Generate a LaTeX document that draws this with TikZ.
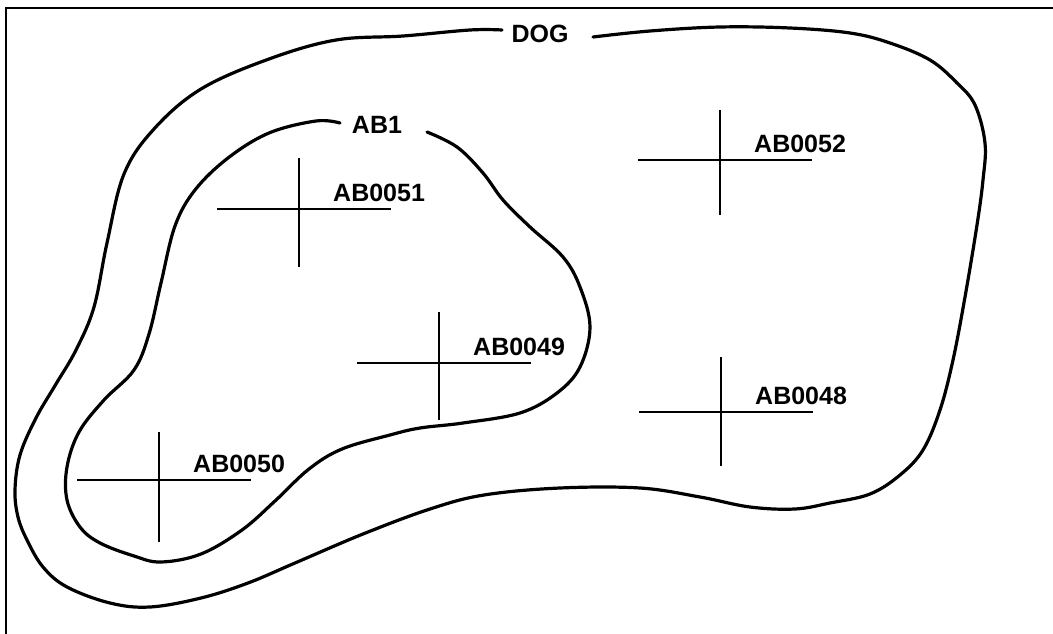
\documentclass[tikz,border=0pt]{standalone}
\usepackage{fontspec}
\setmainfont{Liberation Sans}
\usetikzlibrary{calc}
\tikzset{%
  % Specifications for style of lines and labels:
     blob/.style = {draw=black, line width=3.2pt, line cap=round, line join=round},
    crossline/.style = {draw=black, line width=2.1pt},
    frameline/.style = {draw=black, line width=2.2pt},
    sitelabel/.style = {anchor=base west, inner sep=0pt,
                        font=\fontsize{25}{30}\selectfont\bfseries},
    arealabel/.style = {sitelabel, anchor=base},
}

\begin{document}
\begin{tikzpicture}[x=1pt, y=-1pt]
  \useasboundingbox (0,0) rectangle (1053,634);
  % Frame (top and left edges only)
  \coordinate (frameCorner) at (6,8);
  \draw[frameline] (1053,8) -- (frameCorner) -- (6,634);

  % Area labels sitting in the gaps of the outlines
  \node (dogLabel) [arealabel] at (540,43) {DOG};
  \node (abLabel)  [arealabel] at (377,133) {AB1};

  % Outer outline (DOG), from right of its gap round to left of it
  \draw[blob] plot[smooth, tension=0.6] coordinates {
    (593,37) (650,31) (720,27) (790,28) (850,33) (890,43) (930,60)
    (957,83) (975,105) (985,143) (983,180) (977,225) (965,297)
    (953,360) (940,410) (923,450) (900,475) (870,494) (830,503)
    (795,509) (750,507) (700,497) (640,488) (560,488) (484,495)
    (430,509) (363,534) (295,563) (248,583) (201,598) (150,607)
    (110,603) (67,587) (43,567) (27,540) (18,517) (15,490) (20,455)
    (36,418) (56,384) (76,350) (94,307) (107,243) (124,174) (154,129)
    (201,89) (269,59) (336,40) (403,36) (470,30) (502,30)};

  % Inner outline (AB1), from left of its gap round to right of it
  \draw[blob] plot[smooth, tension=0.6] coordinates {
    (340,123) (316,121) (269,133) (228,158) (195,190) (175,226)
    (161,283) (149,334) (134,370) (104,400) (79,432) (67,467)
    (67,500) (80,527) (100,543) (134,556) (161,562) (201,554)
    (242,530) (275,501) (309,469) (342,449) (390,435) (420,428)
    (463,423) (520,413) (557,393) (580,367) (590,327) (580,287)
    (563,257) (530,227) (503,200) (483,173) (457,147) (427,132)};

  % Survey points: cross and label
  \foreach \name/\x/\y/\up/\down in {AB0051/299/209/51/58, AB0052/720/160/50/55,
      AB0049/439/363/51/57, AB0048/721/412/55/54, AB0050/159/480/48/62} {
    \coordinate (\name) at (\x,\y);
    \draw[crossline] ($(\name)+(-82,0)$) -- ($(\name)+(92,0)$);
    \draw[crossline] ($(\name)+(0,-\up)$) -- ($(\name)+(0,\down)$);
    \node (\name-label) [sitelabel] at ($(\name)+(34,-8)$) {\name};
  }
\end{tikzpicture}
\end{document}
